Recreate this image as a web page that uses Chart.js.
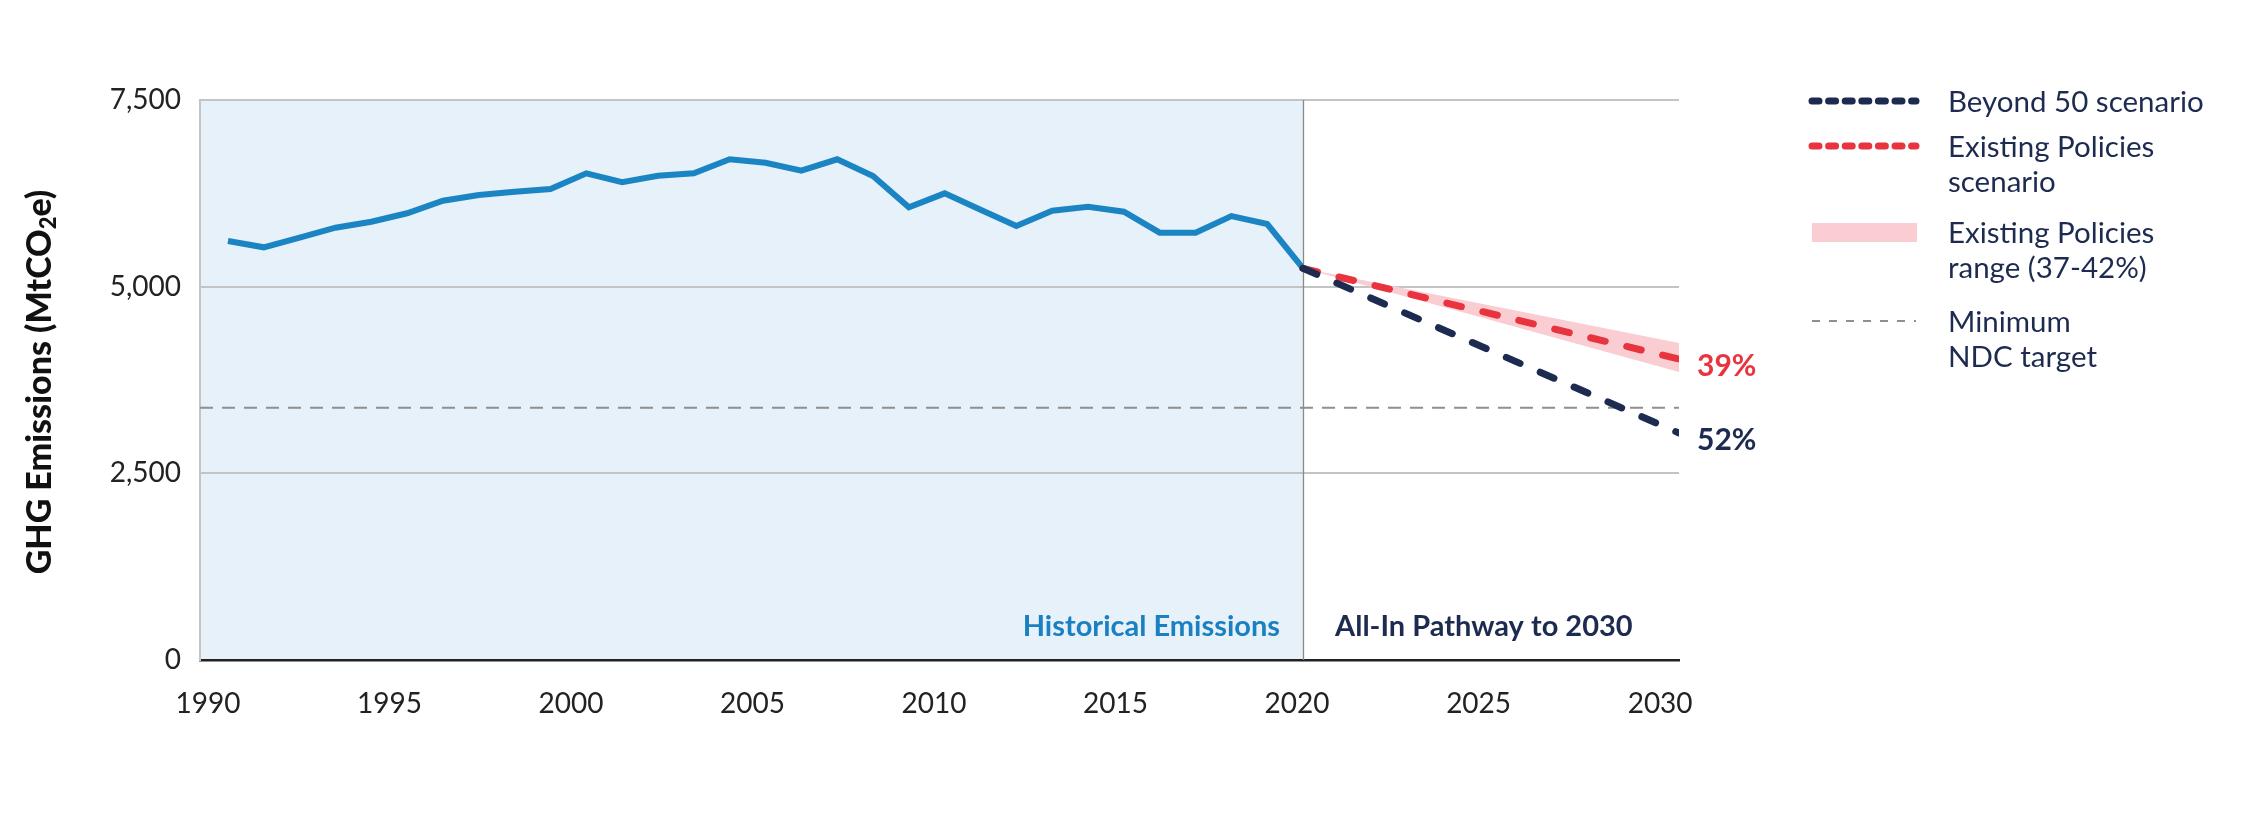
<!DOCTYPE html>
<html>
<head>
<meta charset="utf-8">
<title>GHG Emissions</title>
<script src="https://cdn.jsdelivr.net/npm/chart.js@4/dist/chart.umd.min.js"></script>
<style>
  html, body { margin: 0; padding: 0; background: #fff; }
  #wrap { width: 2250px; height: 826px; position: relative; }
</style>
</head>
<body>
<div id="wrap"><canvas id="ghgChart"></canvas></div>
<script>
// 데이터
const histYears = [1990, 1991, 1992, 1993, 1994, 1995, 1996, 1997, 1998, 1999,
                   2000, 2001, 2002, 2003, 2004, 2005, 2006, 2007, 2008, 2009,
                   2010, 2011, 2012, 2013, 2014, 2015, 2016, 2017, 2018, 2019, 2020];
const histValues = [5612, 5527, 5658, 5790, 5870, 5983, 6151, 6228, 6272, 6308,
                    6518, 6398, 6486, 6518, 6706, 6660, 6553, 6706, 6482, 6063,
                    6250, 6031, 5813, 6018, 6071, 6004, 5723, 5723, 5946, 5839, 5246];
const projYears = [2020, 2030];
const beyond50 = [5246, 3040];
const existingPolicies = [5246, 4030];
const rangeHigh = [5246, 4246];
const rangeLow = [5246, 3857];
const ndcYears = [1990, 2030];
const ndcTarget = [3380, 3380];

const xTicks = [1990, 1995, 2000, 2005, 2010, 2015, 2020, 2025, 2030];
const yTicks = [0, 2500, 5000, 7500];
const endLabels = ['52%', '39%'];
const periodLabels = ['Historical Emissions', 'All-In Pathway to 2030'];
const yTitleParts = ['GHG Emissions (MtCO', '2', 'e)'];
const legendLabels = [
    ['Beyond 50 scenario'],
    ['Existing Policies', 'scenario'],
    ['Existing Policies', 'range (37-42%)'],
    ['Minimum', 'NDC target']
];

const NAVY = '#1c2b4f';
const RED = '#e8343f';
const BLUE = '#1b85c4';
const PINK = '#f9cdd1';
const SHADE = '#e6f1f9';
const GREY = '#8f8f8f';
const FONT = "Lato, 'Open Sans', sans-serif";

const toPoints = (xs, ys) => xs.map((x, i) => ({ x: x, y: ys[i] }));

// 장식 플러그인
const decorPlugin = {
    id: 'decor',
    beforeDraw(chart) {
        const { ctx, chartArea: a, scales } = chart;
        const x2020 = scales.xh.getPixelForValue(2020);
        ctx.save();
        ctx.fillStyle = SHADE;
        ctx.fillRect(a.left, a.top, x2020 - a.left, a.bottom - a.top);
        ctx.restore();
    },
    beforeDatasetsDraw(chart) {
        const { ctx, chartArea: a, scales } = chart;
        const x2020 = Math.round(scales.xh.getPixelForValue(2020)) + 0.5;
        ctx.save();
        ctx.strokeStyle = '#8a8a8a';
        ctx.lineWidth = 1.3;
        ctx.beginPath();
        ctx.moveTo(x2020, a.top);
        ctx.lineTo(x2020, a.bottom);
        ctx.stroke();
        ctx.restore();
    },
    afterDraw(chart) {
        const { ctx, scales } = chart;
        const x2020 = scales.xh.getPixelForValue(2020);
        ctx.save();

        // 기간 라벨
        ctx.font = 'bold 29px ' + FONT;
        ctx.textBaseline = 'middle';
        ctx.fillStyle = '#1a80c2';
        ctx.textAlign = 'right';
        ctx.fillText(periodLabels[0], x2020 - 23, 627);
        ctx.fillStyle = NAVY;
        ctx.textAlign = 'left';
        ctx.fillText(periodLabels[1], x2020 + 32, 627);

        // 끝 라벨
        ctx.font = 'bold 30px ' + FONT;
        [[0, NAVY], [1, RED]].forEach(([i, color]) => {
            const meta = chart.getDatasetMeta(i + 1);
            const pt = meta.data[meta.data.length - 1];
            ctx.fillStyle = color;
            ctx.fillText(endLabels[i], pt.x + 18, pt.y + 7);
        });

        // Y축 제목 (아래첨자 포함)
        ctx.translate(40, 382);
        ctx.rotate(-Math.PI / 2);
        ctx.fillStyle = '#111';
        ctx.textAlign = 'left';
        ctx.textBaseline = 'middle';
        const big = '900 34px ' + FONT, small = '900 22px ' + FONT;
        ctx.font = big;
        const w1 = ctx.measureText(yTitleParts[0]).width;
        const w3 = ctx.measureText(yTitleParts[2]).width;
        ctx.font = small;
        const w2 = ctx.measureText(yTitleParts[1]).width;
        let x = -(w1 + w2 + w3) / 2;
        ctx.font = big;
        ctx.fillText(yTitleParts[0], x, 0);
        x += w1;
        ctx.font = small;
        ctx.fillText(yTitleParts[1], x, 9);
        x += w2;
        ctx.font = big;
        ctx.fillText(yTitleParts[2], x, 0);
        ctx.setTransform(1, 0, 0, 1, 0, 0);

        // 범례
        const lx0 = 1812, lx1 = 1916, tx = 1948, lh = 35;
        const rows = [101, 146, 232, 321];
        ctx.lineCap = 'round';
        ctx.strokeStyle = NAVY;
        ctx.lineWidth = 7;
        ctx.setLineDash([7, 9.6]);
        ctx.beginPath(); ctx.moveTo(lx0, rows[0]); ctx.lineTo(lx1, rows[0]); ctx.stroke();
        ctx.strokeStyle = RED;
        ctx.beginPath(); ctx.moveTo(lx0, rows[1]); ctx.lineTo(lx1, rows[1]); ctx.stroke();
        ctx.setLineDash([]);
        ctx.fillStyle = PINK;
        ctx.fillRect(lx0, rows[2] - 9, lx1 - lx0 + 1, 19);
        ctx.lineCap = 'butt';
        ctx.strokeStyle = GREY;
        ctx.lineWidth = 2;
        ctx.setLineDash([8, 9]);
        ctx.beginPath(); ctx.moveTo(lx0, rows[3]); ctx.lineTo(lx1, rows[3]); ctx.stroke();
        ctx.setLineDash([]);

        ctx.font = '29.5px ' + FONT;
        ctx.fillStyle = NAVY;
        ctx.textAlign = 'left';
        ctx.textBaseline = 'middle';
        legendLabels.forEach((lines, r) => {
            lines.forEach((t, j) => ctx.fillText(t, tx, rows[r] + 1 + j * lh));
        });

        ctx.restore();
    }
};

const ctx = document.getElementById('ghgChart').getContext('2d');
Chart.defaults.font.family = FONT;
Chart.defaults.color = '#222';

new Chart(ctx, {
    type: 'line',
    data: {
        datasets: [
            {
                label: 'Historical',
                data: toPoints(histYears, histValues),
                xAxisID: 'xh',
                borderColor: BLUE,
                borderWidth: 6,
                pointRadius: 0,
                order: 2
            },
            {
                label: 'Beyond 50 scenario',
                data: toPoints(projYears, beyond50),
                xAxisID: 'xp',
                borderColor: NAVY,
                borderWidth: 7,
                borderDash: [15, 22],
                borderCapStyle: 'round',
                pointRadius: 0,
                order: 0
            },
            {
                label: 'Existing Policies scenario',
                data: toPoints(projYears, existingPolicies),
                xAxisID: 'xp',
                borderColor: RED,
                borderWidth: 7,
                borderDash: [15, 22],
                borderCapStyle: 'round',
                pointRadius: 0,
                order: 1
            },
            {
                label: 'range high',
                data: toPoints(projYears, rangeHigh),
                xAxisID: 'xp',
                borderWidth: 0,
                pointRadius: 0,
                fill: false,
                order: 3
            },
            {
                label: 'Existing Policies range (37-42%)',
                data: toPoints(projYears, rangeLow),
                xAxisID: 'xp',
                borderWidth: 0,
                pointRadius: 0,
                backgroundColor: PINK,
                fill: '-1',
                order: 4
            },
            {
                label: 'Minimum NDC target',
                data: toPoints(ndcYears, ndcTarget),
                xAxisID: 'xn',
                borderColor: GREY,
                borderWidth: 2,
                borderDash: [13, 9],
                pointRadius: 0,
                order: 5
            }
        ]
    },
    options: {
        responsive: true,
        maintainAspectRatio: false,
        animation: false,
        layout: { padding: { left: 0, right: 571, top: 100, bottom: 0 } },
        plugins: {
            legend: { display: false },
            tooltip: { enabled: false }
        },
        scales: {
            x: {
                type: 'linear',
                min: 1989.78,
                max: 2030.52,
                afterBuildTicks: s => { s.ticks = xTicks.map(v => ({ value: v })); },
                afterFit: s => { s.height = 166; },
                ticks: {
                    callback: v => String(v),
                    font: { size: 28 },
                    color: '#222',
                    padding: 27,
                    maxRotation: 0,
                    autoSkip: false
                },
                grid: { display: false, drawTicks: false },
                border: { display: true, color: '#222', width: 2.5 }
            },
            xn: {
                type: 'linear',
                display: false,
                min: 1990,
                max: 2030
            },
            xh: {
                type: 'linear',
                display: false,
                min: 1989.22,
                max: 2030.49
            },
            xp: {
                type: 'linear',
                display: false,
                min: 1990.67,
                max: 2030
            },
            y: {
                min: 0,
                max: 7500,
                afterBuildTicks: s => { s.ticks = yTicks.map(v => ({ value: v })); },
                afterFit: s => { s.width = 200; },
                ticks: {
                    callback: v => v.toLocaleString('en-US'),
                    font: { size: 28 },
                    color: '#222',
                    padding: 19
                },
                grid: { color: '#c4c4c4', lineWidth: 2, drawTicks: false },
                border: { display: true, color: '#c4c4c4', width: 2 }
            }
        }
    },
    plugins: [decorPlugin]
});
</script>
</body>
</html>
